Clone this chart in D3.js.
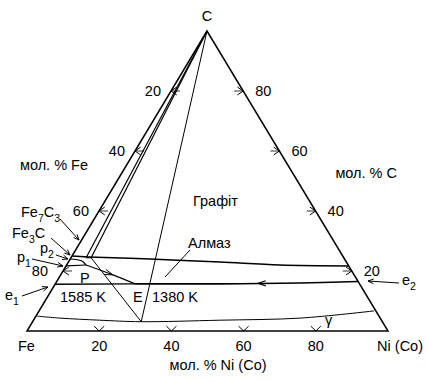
<!DOCTYPE html>
<html><head><meta charset="utf-8">
<script src="https://cdn.jsdelivr.net/npm/d3@7"></script>
<style>
body{margin:0;background:#fff}
svg{display:block}
text{font-family:"Liberation Sans",Arial,sans-serif;fill:#000;font-size:14.5px}
</style>
</head><body>
<svg id="chart" width="427" height="382"></svg>
<script>
// Compositions are given as [mol% Ni (Co), mol% C]; Fe is the balance.
const niTicks = [20, 40, 60, 80];
const feTicks = [20, 40, 60, 80];
const cTicks = [80, 60, 40, 20];

// invariant points
const ptFe7C3 = [0, 30];
const ptFe3C = [0, 25];
const ptP2 = [0, 24];
const ptP1 = [0, 21.7];
const ptE1 = [0, 15.6];
const ptE2 = [83.5, 16.5];
const ptE = [22.1, 15.7];
const ptP = [5.4, 22];
const ptGamma = [30.1, 3.1];
const carbideEnds = [[4.2, 24.4], [5.6, 24.4]];

// univariant curves
const diamondBoundary = [[0, 25], [4.6, 24.7], [22.1, 24], [42, 23], [59.1, 22], [78.3, 21.7]];
const e2Curve = [ptE2, [67.6, 16], [45.6, 15.7], ptE];
const e1Curve = [ptE1, ptE];
const pECurve = [ptP, [14.5, 18.7], ptE];
const p1Curve = [ptP1, ptP];
const p2Curve = [ptP2, [3.4, 23.4], ptP];
const gammaCurve = [[0, 5], [7, 4.3], [18.4, 3.6], ptGamma, [51.6, 3.6], [73.5, 4.3], [92.8, 6.7]];

const svg = d3.select("#chart");

// ternary projection
const xBase = d3.scaleLinear().domain([0, 100]).range([27, 388]);
const xShift = d3.scaleLinear().domain([0, 100]).range([0, 180]);
const yC = d3.scaleLinear().domain([0, 100]).range([331, 31]);
const proj = ([n, c]) => [xBase(n) + xShift(c), yC(c)];

const Fe = proj([0, 0]), Ni = proj([100, 0]), C = proj([0, 100]);

const line = d3.line().curve(d3.curveCatmullRom.alpha(0.5));
const straight = d3.line();

function path(pts, w, curved) {
  svg.append("path")
    .attr("d", (curved ? line : straight)(pts.map(proj)))
    .attr("fill", "none").attr("stroke", "#000").attr("stroke-width", w);
}

function barbs(x1, y1, x2, y2, len, spread, w) {
  const a = Math.atan2(y2 - y1, x2 - x1);
  const pts = [
    [x2 - len * Math.cos(a - spread), y2 - len * Math.sin(a - spread)],
    [x2, y2],
    [x2 - len * Math.cos(a + spread), y2 - len * Math.sin(a + spread)]
  ];
  svg.append("path").attr("d", straight(pts))
    .attr("fill", "none").attr("stroke", "#000").attr("stroke-width", w || 1);
}

function arrow(x1, y1, x2, y2) {
  svg.append("line").attr("x1", x1).attr("y1", y1).attr("x2", x2).attr("y2", y2)
    .attr("stroke", "#000").attr("stroke-width", 1);
  barbs(x1, y1, x2, y2, 6, 0.4);
}

// triangle frame
svg.append("path").attr("d", straight([Fe, Ni, C]) + "Z")
  .attr("fill", "none").attr("stroke", "#000").attr("stroke-width", 1.5);

// tie lines from carbon
carbideEnds.forEach(p => path([[0, 100], p], 1.2));
path([[0, 100], ptGamma], 1);
path([carbideEnds[0], carbideEnds[1]], 1);
path([carbideEnds[1], ptGamma], 1);

// curves
path(diamondBoundary, 1.5, true);
path(e2Curve, 1.7, true);
path(e1Curve, 1.4);
path(pECurve, 1.2, true);
path(p1Curve, 1.2);
path(p2Curve, 1.2, true);
path(gammaCurve, 1, true);

// direction arrows on the curves
(function () {
  const a = proj([60, 15.9]), b = proj([56.1, 15.9]);
  barbs(a[0], a[1], b[0], b[1], 8, 0.33, 1.2);
  const c1 = proj(ptP), c2 = proj([14.5, 18.7]);
  barbs(c1[0], c1[1], c2[0], c2[1], 9, 0.3, 1);
})();

// axis ticks
niTicks.forEach(v => {
  const [x, y] = proj([v, 0]);
  barbs(x, y - 8, x, y, 7, 0.8);
});
feTicks.forEach(v => {
  const [x, y] = proj([0, 100 - v]);
  svg.append("line").attr("x1", x).attr("y1", y).attr("x2", x + 9).attr("y2", y)
    .attr("stroke", "#000").attr("stroke-width", 0.8);
  barbs(x + 9, y, x, y, 7, 0.6);
});
cTicks.forEach(v => {
  const [x, y] = proj([100 - v, v]);
  svg.append("line").attr("x1", x - 9).attr("y1", y).attr("x2", x).attr("y2", y)
    .attr("stroke", "#000").attr("stroke-width", 0.8);
  barbs(x - 9, y, x, y, 7, 0.6);
});

// tick labels
niTicks.forEach(v => {
  const [x, y] = proj([v, 0]);
  svg.append("text").attr("x", x).attr("y", y + 20).attr("text-anchor", "middle").text(v);
});
feTicks.forEach((v, i) => {
  const [x, y] = proj([0, 100 - v]);
  svg.append("text").attr("x", x - (i === 3 ? 15 : 10)).attr("y", y + 5).attr("text-anchor", "end").text(v);
});
cTicks.forEach(v => {
  const [x, y] = proj([100 - v, v]);
  svg.append("text").attr("x", x + 12).attr("y", y + 5).text(v);
});

// vertex and axis titles
svg.append("text").attr("x", C[0]).attr("y", C[1] - 10).attr("text-anchor", "middle").text("C");
svg.append("text").attr("x", 18).attr("y", 351).text("Fe");
svg.append("text").attr("x", 423).attr("y", 351).attr("text-anchor", "end").text("Ni (Co)");
svg.append("text").attr("x", 218).attr("y", 370).attr("text-anchor", "middle").text("мол. % Ni (Co)");
svg.append("text").attr("x", 88).attr("y", 170).attr("text-anchor", "end").text("мол. % Fe");
svg.append("text").attr("x", 397).attr("y", 178).attr("text-anchor", "end").text("мол. % C");

// phase region labels
svg.append("text").attr("x", 193).attr("y", 206).text("Графіт");
svg.append("text").attr("x", 188).attr("y", 248).text("Алмаз");
svg.append("line").attr("x1", 190).attr("y1", 250).attr("x2", 165).attr("y2", 277)
  .attr("stroke", "#000").attr("stroke-width", 1);
svg.append("text").attr("x", 80).attr("y", 283).text("P");
svg.append("text").attr("x", 133).attr("y", 302).text("E");
svg.append("text").attr("x", 60).attr("y", 302).text("1585 K");
svg.append("text").attr("x", 152).attr("y", 302).text("1380 K");
svg.append("text").attr("x", 325).attr("y", 325).text("γ");

// labels with subscripts
function subLabel(x, y, parts) {
  const t = svg.append("text").attr("x", x).attr("y", y);
  parts.forEach(([s, sub], i) => {
    const ts = t.append("tspan").text(s);
    if (sub) ts.attr("dy", 5).attr("font-size", "10.5px");
    else if (i > 0) ts.attr("dy", -5);
  });
}
subLabel(21, 217, [["Fe"], ["7", 1], ["C"], ["3", 1]]);
subLabel(12, 238, [["Fe"], ["3", 1], ["C"]]);
subLabel(40, 253, [["p"], ["2", 1]]);
subLabel(17, 262, [["p"], ["1", 1]]);
subLabel(5, 300, [["e"], ["1", 1]]);
subLabel(402, 285, [["e"], ["2", 1]]);

// label pointers
arrow(60, 219, 79, 240);
arrow(51, 238, 70, 255);
arrow(56, 255, 68, 259);
arrow(32, 259, 63, 266);
arrow(22, 296, 48, 287);
arrow(399, 283, 368, 281);
</script>
</body></html>
